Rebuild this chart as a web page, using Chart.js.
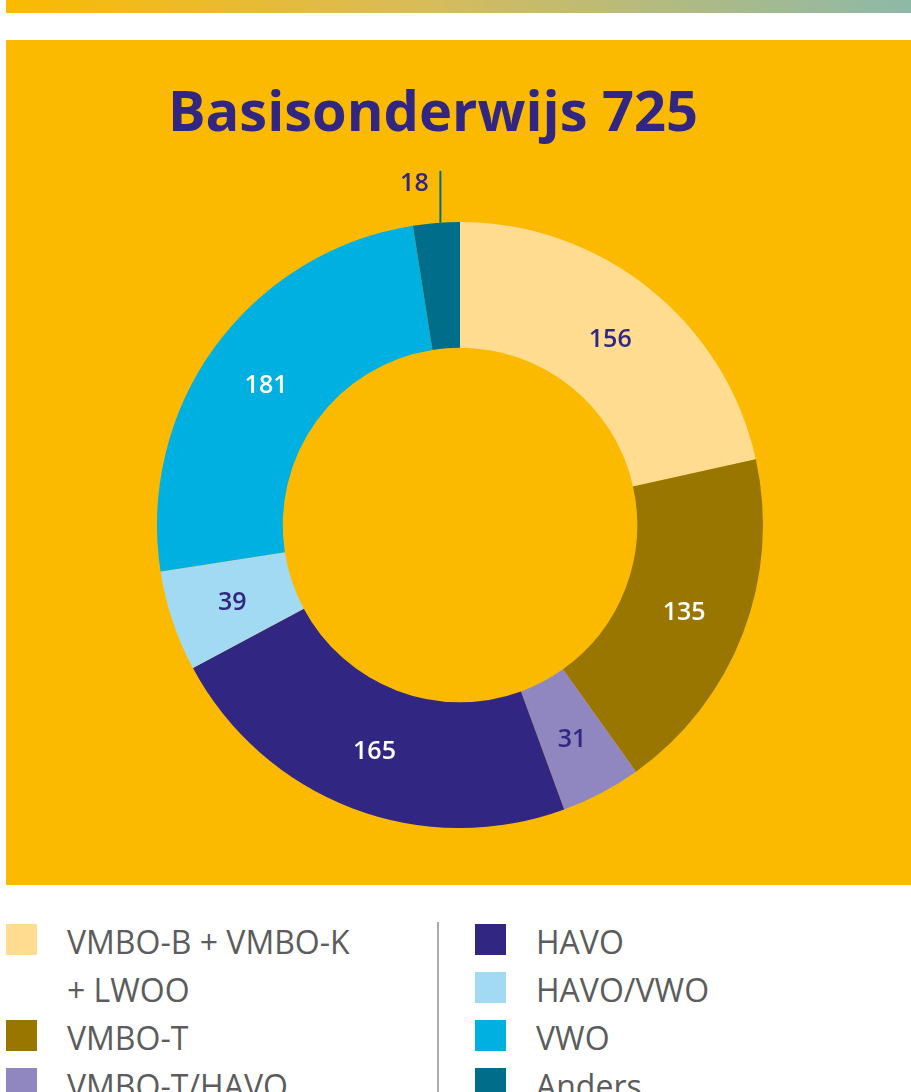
<!DOCTYPE html>
<html lang="nl">
<head>
  <meta charset="UTF-8">
  <title>Basisonderwijs 725</title>
  <script src="https://cdn.jsdelivr.net/npm/chart.js"></script>
  <style>
    body {
      margin: 0;
      background: #ffffff;
      font-family: "Open Sans", sans-serif;
      width: 911px;
      height: 1092px;
      overflow: hidden;
      position: relative;
    }
    .topbar {
      position: absolute;
      left: 6px;
      top: 0;
      width: 905px;
      height: 13px;
      background: linear-gradient(to right, #fbba00, #d9bc58 45%, #8db9a8);
    }
    .panel {
      position: absolute;
      left: 6px;
      top: 40px;
      width: 905px;
      height: 845px;
      background: #fbba00;
    }
    .title {
      position: absolute;
      left: 0;
      width: 866px;
      top: 81px;
      text-align: center;
      font-size: 56px;
      line-height: 1;
      font-weight: 700;
      color: #312783;
    }
    .chart-box {
      position: absolute;
      left: 0;
      top: 40px;
      width: 911px;
      height: 845px;
    }
    .divider {
      position: absolute;
      left: 437px;
      top: 922px;
      width: 2px;
      height: 180px;
      background: #aaaaaa;
    }
    .legend-col {
      position: absolute;
      top: 918px;
    }
    .legend-item {
      position: relative;
      padding-left: 61px;
      font-size: 32px;
      line-height: 48px;
      color: #5c5c5c;
    }
    .legend-item .swatch {
      position: absolute;
      left: 0;
      top: 6px;
      width: 31px;
      height: 31px;
    }
  </style>
</head>
<body>
  <div class="topbar"></div>
  <div class="panel"></div>
  <div class="title">Basisonderwijs 725</div>
  <div class="chart-box">
    <canvas id="donut"></canvas>
  </div>
  <div class="divider"></div>
  <div class="legend-col" id="legendLeft" style="left:6px; width:365px;"></div>
  <div class="legend-col" id="legendRight" style="left:475px; width:400px;"></div>

  <script>
    // data
    const categories = ['VMBO-B + VMBO-K + LWOO', 'VMBO-T', 'VMBO-T/HAVO', 'HAVO', 'HAVO/VWO', 'VWO', 'Anders'];
    const counts = [156, 135, 31, 165, 39, 181, 18];
    const sliceColors = ['#ffdc8f', '#987600', '#9087c0', '#312783', '#a3daf3', '#00b0e0', '#006d8a'];
    const labelColors = ['#312783', '#ffffff', '#312783', '#ffffff', '#312783', '#ffffff', '#312783'];

    // legend (two columns: 3 left, 4 right)
    categories.forEach(function(name, i) {
      const item = document.createElement('div');
      item.className = 'legend-item';
      item.innerHTML = '<span class="swatch" style="background:' + sliceColors[i] + '"></span>' + name;
      document.getElementById(i < 3 ? 'legendLeft' : 'legendRight').appendChild(item);
    });

    // value labels on the ring, small slice gets a leader line
    const sliceLabels = {
      id: 'sliceLabels',
      afterDatasetsDraw(chart) {
        const ctx = chart.ctx;
        const meta = chart.getDatasetMeta(0);
        ctx.save();
        ctx.font = '600 25px "Open Sans"';
        ctx.textAlign = 'center';
        ctx.textBaseline = 'middle';
        meta.data.forEach(function(arc, i) {
          const p = arc.getProps(['x', 'y', 'startAngle', 'endAngle', 'innerRadius', 'outerRadius']);
          const mid = (p.startAngle + p.endAngle) / 2;
          const value = counts[i];
          if (value / 725 < 0.04) {
            const ex = p.x + Math.cos(mid) * p.outerRadius + 4;
            const ey = p.y + Math.sin(mid) * p.outerRadius;
            ctx.strokeStyle = sliceColors[i];
            ctx.lineWidth = 2;
            ctx.beginPath();
            ctx.moveTo(ex, ey);
            ctx.lineTo(ex, ey - 52);
            ctx.stroke();
            ctx.fillStyle = labelColors[i];
            ctx.fillText(String(value), ex - 26, ey - 39);
          } else {
            const r = (p.innerRadius + p.outerRadius) / 2;
            ctx.fillStyle = labelColors[i];
            ctx.fillText(String(value), p.x + Math.cos(mid) * r, p.y + Math.sin(mid) * r + 2);
          }
        });
        ctx.restore();
      }
    };

    const ctx = document.getElementById('donut').getContext('2d');
    new Chart(ctx, {
      type: 'doughnut',
      data: {
        labels: categories,
        datasets: [{
          data: counts,
          backgroundColor: sliceColors,
          borderWidth: 0
        }]
      },
      options: {
        responsive: true,
        maintainAspectRatio: false,
        animation: false,
        events: [],
        cutout: '58.5%',
        layout: {
          padding: { left: 157, right: 148, top: 182, bottom: 57 }
        },
        plugins: {
          legend: { display: false },
          tooltip: { enabled: false }
        }
      },
      plugins: [sliceLabels]
    });
  </script>
</body>
</html>
